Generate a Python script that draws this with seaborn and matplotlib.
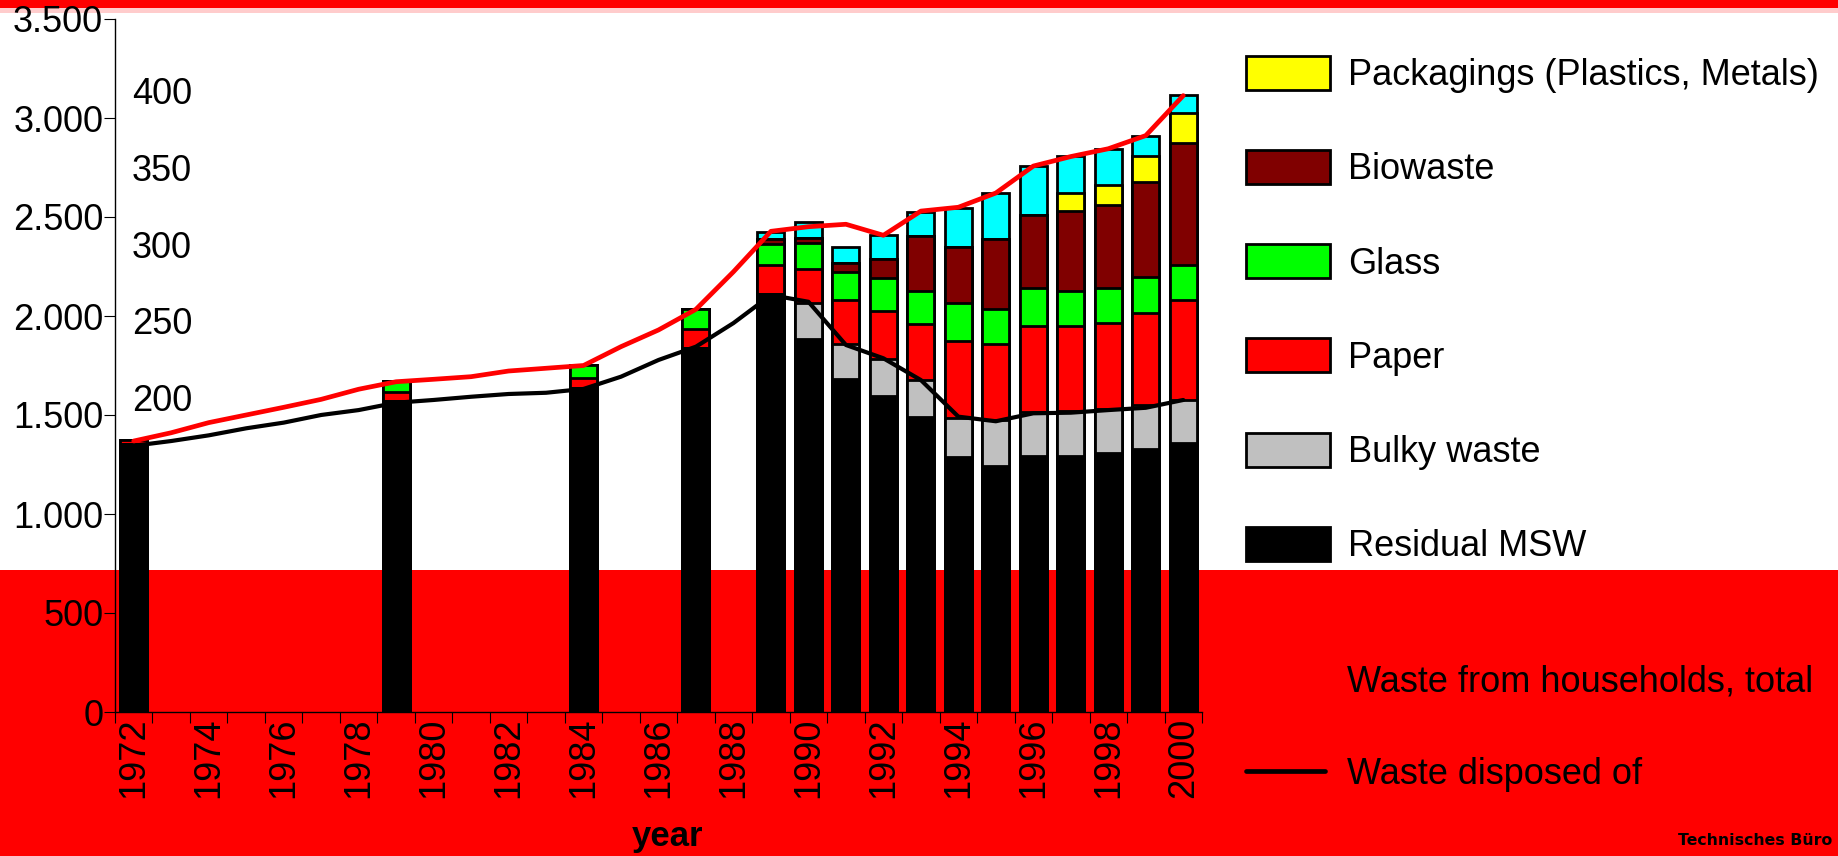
import numpy as np
import pandas as pd
import matplotlib
matplotlib.use("Agg")
import matplotlib.pyplot as plt
import seaborn as sns
from matplotlib.patches import Rectangle, Patch
from matplotlib.lines import Line2D

# ---- data -------------------------------------------------------------
years = list(range(1972, 2001))
bar_years = [1972, 1979, 1984, 1987, 1989, 1990, 1991, 1992,
             1993, 1994, 1995, 1996, 1997, 1998, 1999, 2000]

# collected quantities, 1000 t
residual_msw = [1355, 1572, 1635, 1840, 2111, 1882, 1682, 1596, 1491, 1286, 1244, 1294, 1294, 1310, 1327, 1360]
bulky_waste  = [0, 0, 0, 0, 0, 185, 175, 185, 186, 200, 231, 223, 228, 219, 223, 216]
paper        = [20, 46, 52, 95, 147, 170, 222, 244, 284, 388, 384, 434, 429, 434, 467, 505]
glass        = [0, 52, 65, 99, 104, 130, 145, 168, 167, 193, 178, 190, 177, 177, 178, 177]
biowaste     = [0, 0, 0, 0, 25, 29, 42, 93, 276, 283, 353, 367, 404, 419, 480, 614]
packagings   = [0, 0, 0, 0, 0, 0, 0, 0, 0, 0, 0, 0, 91, 104, 133, 153]
other_recyc  = [0, 0, 0, 0, 36, 77, 82, 123, 120, 194, 233, 249, 185, 180, 101, 91]

# per-capita quantities, kg per inhabitant
households_total = [171.4, 176.8, 183.4, 188.4, 193.4, 198.6, 205.2, 210.1, 211.7, 213.4,
                    217.1, 218.9, 220.7, 233.0, 243.9, 257.4, 281.9, 308.3, 311.3, 312.9,
                    305.7, 321.5, 324.0, 333.3, 350.9, 357.1, 362.2, 370.8, 396.9]
disposed_of      = [168.3, 171.4, 175.1, 179.7, 183.4, 188.4, 191.6, 196.4, 198.2, 200.3,
                    202.1, 202.9, 205.4, 213.4, 224.3, 233.0, 248.4, 266.7, 262.3, 234.1,
                    225.4, 211.2, 187.3, 184.3, 189.5, 189.9, 191.6, 193.1, 198.2]

y_ticks = [0, 500, 1000, 1500, 2000, 2500, 3000, 3500]
y_tick_labels = ["0", "500", "1.000", "1.500", "2.000", "2.500", "3.000", "3.500"]
kg_ticks = [200, 250, 300, 350, 400]
x_tick_years = list(range(1972, 2001, 2))

# stack order bottom -> top
layers = [
    ("Residual MSW", residual_msw, "#000000"),
    ("Bulky waste", bulky_waste, "#C0C0C0"),
    ("Paper", paper, "#FF0000"),
    ("Glass", glass, "#00FF00"),
    ("Biowaste", biowaste, "#800000"),
    ("Packagings (Plastics, Metals)", packagings, "#FFFF00"),
    ("Other", other_recyc, "#00FFFF"),
]

# ---- style -------------------------------------------------------------
sns.set_style("ticks")
plt.rcParams["font.family"] = ["Liberation Sans", "DejaVu Sans"]
plt.rcParams.update({
    "text.color": "black",
    "axes.labelcolor": "black",
    "xtick.color": "black",
    "ytick.color": "black",
    "axes.edgecolor": "black",
})
FS = 26

W, H = 1838, 856
fig = plt.figure(figsize=(W / 100, H / 100), dpi=100, facecolor="white")

# page background bands
fig.add_artist(Rectangle((0, 0), 1, (H - 570) / H, transform=fig.transFigure,
                         facecolor="#FF0000", edgecolor="none", zorder=-5))
fig.add_artist(Rectangle((0, 1 - 8 / H), 1, 8 / H, transform=fig.transFigure,
                         facecolor="#FF0000", edgecolor="none", zorder=-5))
fig.add_artist(Rectangle((0, 1 - 13 / H), 1, 5 / H, transform=fig.transFigure,
                         facecolor="#FFCCCC", edgecolor="none", zorder=-5))

ax_l, ax_r, ax_t, ax_b = 115, 1202, 19, 712
ax = fig.add_axes([ax_l / W, 1 - ax_b / H, (ax_r - ax_l) / W, (ax_b - ax_t) / H])
ax.patch.set_visible(False)

# stacked bars: draw cumulative totals from the top layer downwards
df = pd.DataFrame({"year": bar_years})
cum = np.zeros(len(bar_years))
cum_cols = []
for name, vals, color in layers:
    cum = cum + np.asarray(vals, dtype=float)
    df[name] = cum
    cum_cols.append((name, color))

for name, color in reversed(cum_cols):
    sns.barplot(data=df, x="year", y=name, native_scale=True, color=color,
                saturation=1, width=0.72, edgecolor="black", linewidth=2,
                errorbar=None, ax=ax, zorder=2)

ax.set_xlim(1971.5, 2000.5)
ax.set_ylim(0, 3500)
ax.set_yticks(y_ticks)
ax.set_yticklabels(y_tick_labels)
ax.set_xticks(x_tick_years)
ax.set_xticklabels([str(y) for y in x_tick_years], rotation=90)
ax.set_xticks(np.arange(1971.5, 2001, 1.0), minor=True)
ax.tick_params(axis="x", which="major", length=0, pad=4, labelsize=FS)
ax.tick_params(axis="x", which="minor", length=8, width=0.8, direction="out")
ax.tick_params(axis="y", which="major", length=8, width=0.8, pad=0.5, labelsize=FS)
for s in ["top", "right"]:
    ax.spines[s].set_visible(False)
for s in ["left", "bottom"]:
    ax.spines[s].set_linewidth(1.0)
    ax.spines[s].set_color("black")
ax.set_ylabel("")
ax.set_xlabel("year", fontsize=25, fontweight="bold")
ax.xaxis.set_label_coords(668 / W, (H - 846) / H, transform=fig.transFigure)
ax.xaxis.label.set_verticalalignment("baseline")

# per-capita lines on a second scale
ax2 = ax.twinx()
sns.lineplot(x=years, y=households_total, color="#FF0000", linewidth=3.4, ax=ax2, zorder=5)
sns.lineplot(x=years, y=disposed_of, color="black", linewidth=3.0, ax=ax2, zorder=4)
ax2.set_ylim(-5.5, 446.9)
ax2.set_xlim(1971.5, 2000.5)
ax2.set_yticks(kg_ticks)
ax2.set_yticklabels([str(v) for v in kg_ticks])
ax2.yaxis.tick_left()
ax2.tick_params(axis="y", which="both", left=True, right=False, labelleft=True,
                labelright=False, length=0, pad=-55.5, labelsize=FS)
for s in ax2.spines.values():
    s.set_visible(False)
ax2.set_ylabel("")

# legends
legend_layers = [layers[5], layers[4], layers[3], layers[2], layers[1], layers[0]]
patch_handles = [Patch(facecolor=c, edgecolor="black", linewidth=2, label=n)
                 for n, _, c in legend_layers]
leg1 = fig.legend(handles=patch_handles, loc="upper left",
                  bbox_to_anchor=(1246 / W, 1 - 56 / H), frameon=False,
                  fontsize=FS, handlelength=2.33, handleheight=1.07,
                  labelspacing=1.575, handletextpad=0.5, borderpad=0,
                  borderaxespad=0)
line_handles = [Line2D([0], [0], color="#FF0000", linewidth=3.4,
                       label="Waste from households, total"),
                Line2D([0], [0], color="black", linewidth=3.4,
                       label="Waste disposed of")]
leg2 = fig.legend(handles=line_handles, loc="upper left",
                  bbox_to_anchor=(1246 / W, 1 - 664 / H), frameon=False,
                  fontsize=FS, handlelength=2.2, labelspacing=1.6,
                  handletextpad=0.6, borderpad=0, borderaxespad=0)

fig.text(1678 / W, (H - 845) / H, "Technisches Büro", fontsize=11.3,
         fontweight="bold", family="DejaVu Sans", ha="left", va="baseline")

fig.savefig("out.png", dpi=100, facecolor=fig.get_facecolor())
